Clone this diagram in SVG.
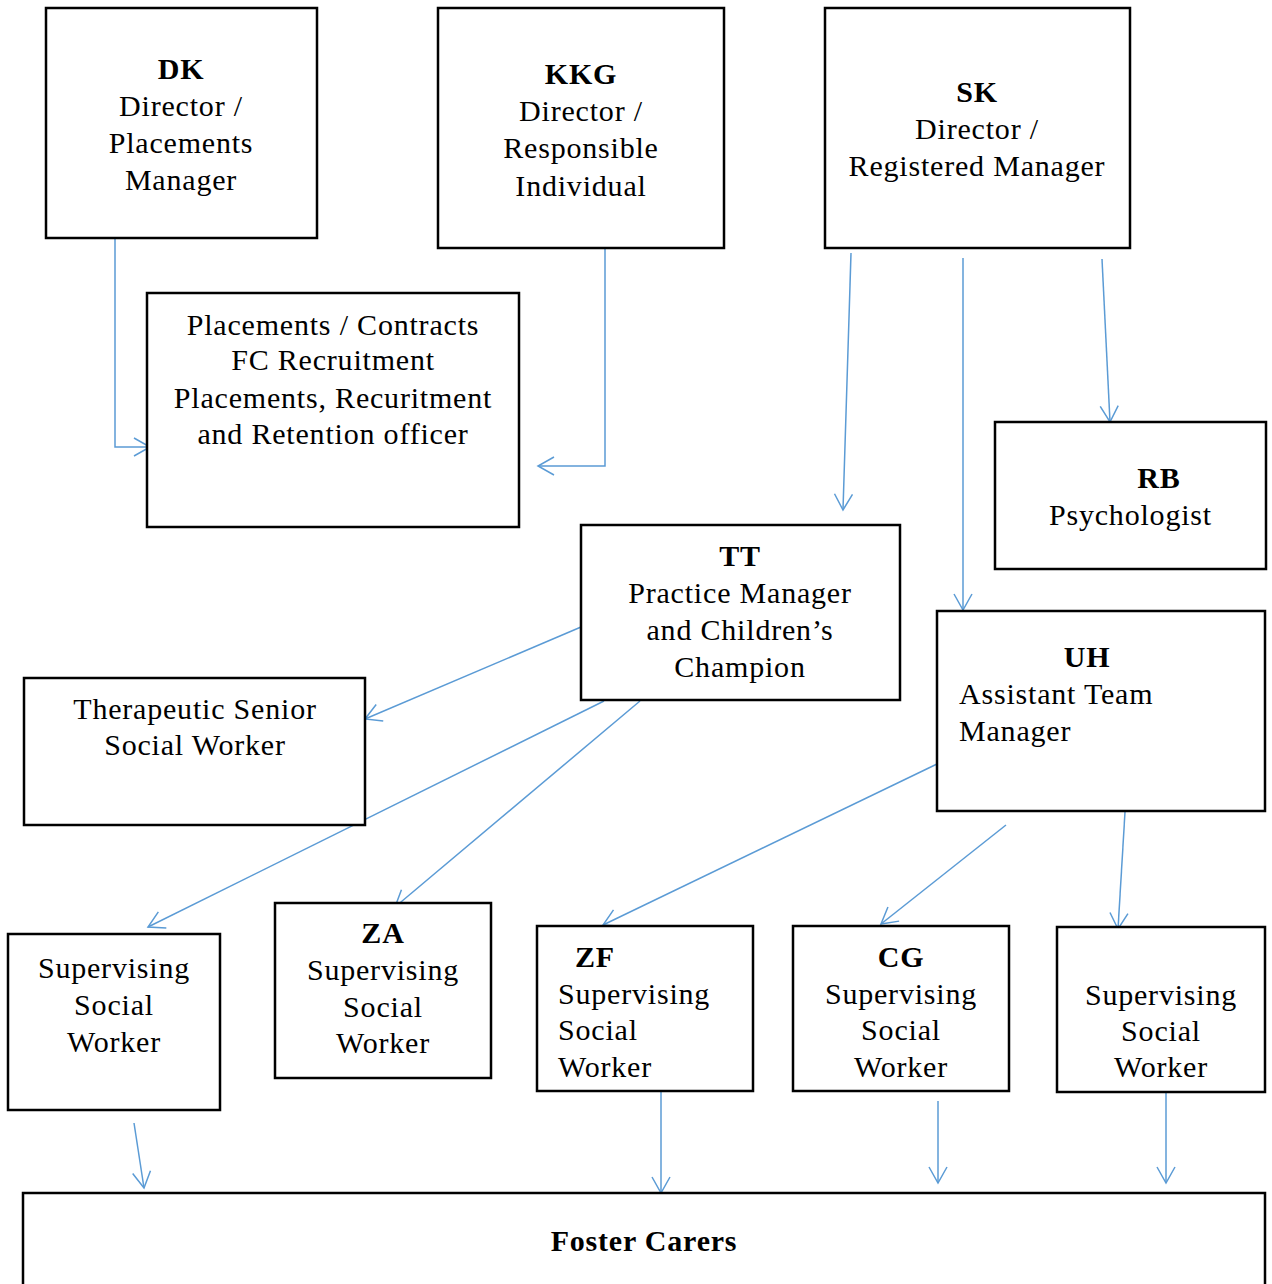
<svg xmlns="http://www.w3.org/2000/svg" width="1272" height="1284" viewBox="0 0 1272 1284">
<defs>
<style>
.box{fill:#fff;stroke:#000;stroke-width:2.5}
text{font-family:"Liberation Serif","Times New Roman",serif;font-size:30px;letter-spacing:0.8px;fill:#000}
.c{text-anchor:middle}
.b{font-weight:bold}
.ln{fill:none;stroke:#5b9bd5;stroke-width:1.5;marker-end:url(#ah)}
</style>
<marker id="ah" viewBox="0 0 20 20" refX="17" refY="10" markerWidth="20" markerHeight="20" markerUnits="userSpaceOnUse" orient="auto">
<path d="M1,1 L17,10 L1,19" fill="none" stroke="#5b9bd5" stroke-width="1.5"/>
</marker>
</defs>
<rect width="1272" height="1284" fill="#fff"/>
<g id="connectors">
<path class="ln" d="M115,238 V447 H150"/>
<path class="ln" d="M605,242 V466 H538"/>
<path class="ln" d="M851,253 L843,510"/>
<path class="ln" d="M963,258 V610"/>
<path class="ln" d="M1102,259 L1110,422"/>
<path class="ln" d="M581,627 L365,719"/>
<path class="ln" d="M604,701 L148,927"/>
<path class="ln" d="M640,701 L395,907"/>
<path class="ln" d="M937,764 L603,925"/>
<path class="ln" d="M1006,825 L881,924"/>
<path class="ln" d="M1125,812 L1118,929"/>
<path class="ln" d="M134,1123 L144,1188"/>
<path class="ln" d="M661,1092 V1193"/>
<path class="ln" d="M938,1101 V1183"/>
<path class="ln" d="M1166,1092 V1183"/>
</g>
<g id="dk"><rect class="box" x="46" y="8" width="271" height="230"/>
<text class="c b" x="181" y="79">DK</text><text class="c" x="181" y="116">Director /</text><text class="c" x="181" y="153">Placements</text><text class="c" x="181" y="190">Manager</text></g>
<g id="kkg"><rect class="box" x="438" y="8" width="286" height="240"/>
<text class="c b" x="581" y="84">KKG</text><text class="c" x="581" y="121">Director /</text><text class="c" x="581" y="158">Responsible</text><text class="c" x="581" y="196">Individual</text></g>
<g id="sk"><rect class="box" x="825" y="8" width="305" height="240"/>
<text class="c b" x="977" y="102">SK</text><text class="c" x="977" y="139">Director /</text><text class="c" x="977" y="176">Registered Manager</text></g>
<g id="placements"><rect class="box" x="147" y="293" width="372" height="234"/>
<text class="c" x="333" y="335">Placements / Contracts</text><text class="c" x="333" y="370">FC Recruitment</text><text class="c" x="333" y="408">Placements, Recuritment</text><text class="c" x="333" y="444">and Retention officer</text></g>
<g id="rb"><rect class="box" x="995" y="422" width="271" height="147"/>
<text class="c b" x="1159" y="488">RB</text><text x="1049" y="525">Psychologist</text></g>
<g id="tt"><rect class="box" x="581" y="525" width="319" height="175"/>
<text class="c b" x="740" y="566">TT</text><text class="c" x="740" y="603">Practice Manager</text><text class="c" x="740" y="640">and Children’s</text><text class="c" x="740" y="677">Champion</text></g>
<g id="uh"><rect class="box" x="937" y="611" width="328" height="200"/>
<text class="c b" x="1087" y="667">UH</text><text x="959" y="704">Assistant Team</text><text x="959" y="741">Manager</text></g>
<g id="therapeutic"><rect class="box" x="24" y="678" width="341" height="147"/>
<text class="c" x="195" y="719">Therapeutic Senior</text><text class="c" x="195" y="755">Social Worker</text></g>
<g id="ssw1"><rect class="box" x="8" y="934" width="212" height="176"/>
<text class="c" x="114" y="978">Supervising</text><text class="c" x="114" y="1015">Social</text><text class="c" x="114" y="1052">Worker</text></g>
<g id="za"><rect class="box" x="275" y="903" width="216" height="175"/>
<text class="c b" x="383" y="943">ZA</text><text class="c" x="383" y="980">Supervising</text><text class="c" x="383" y="1017">Social</text><text class="c" x="383" y="1053">Worker</text></g>
<g id="zf"><rect class="box" x="537" y="926" width="216" height="165"/>
<text class="b" x="575" y="967">ZF</text><text x="558" y="1004">Supervising</text><text x="558" y="1040">Social</text><text x="558" y="1077">Worker</text></g>
<g id="cg"><rect class="box" x="793" y="926" width="216" height="165"/>
<text class="c b" x="901" y="967">CG</text><text class="c" x="901" y="1004">Supervising</text><text class="c" x="901" y="1040">Social</text><text class="c" x="901" y="1077">Worker</text></g>
<g id="ssw5"><rect class="box" x="1057" y="927" width="208" height="165"/>
<text class="c" x="1161" y="1005">Supervising</text><text class="c" x="1161" y="1041">Social</text><text class="c" x="1161" y="1077">Worker</text></g>
<g id="foster"><rect class="box" x="23" y="1193" width="1242" height="110"/>
<text class="c b" x="644" y="1251">Foster Carers</text></g>
</svg>
